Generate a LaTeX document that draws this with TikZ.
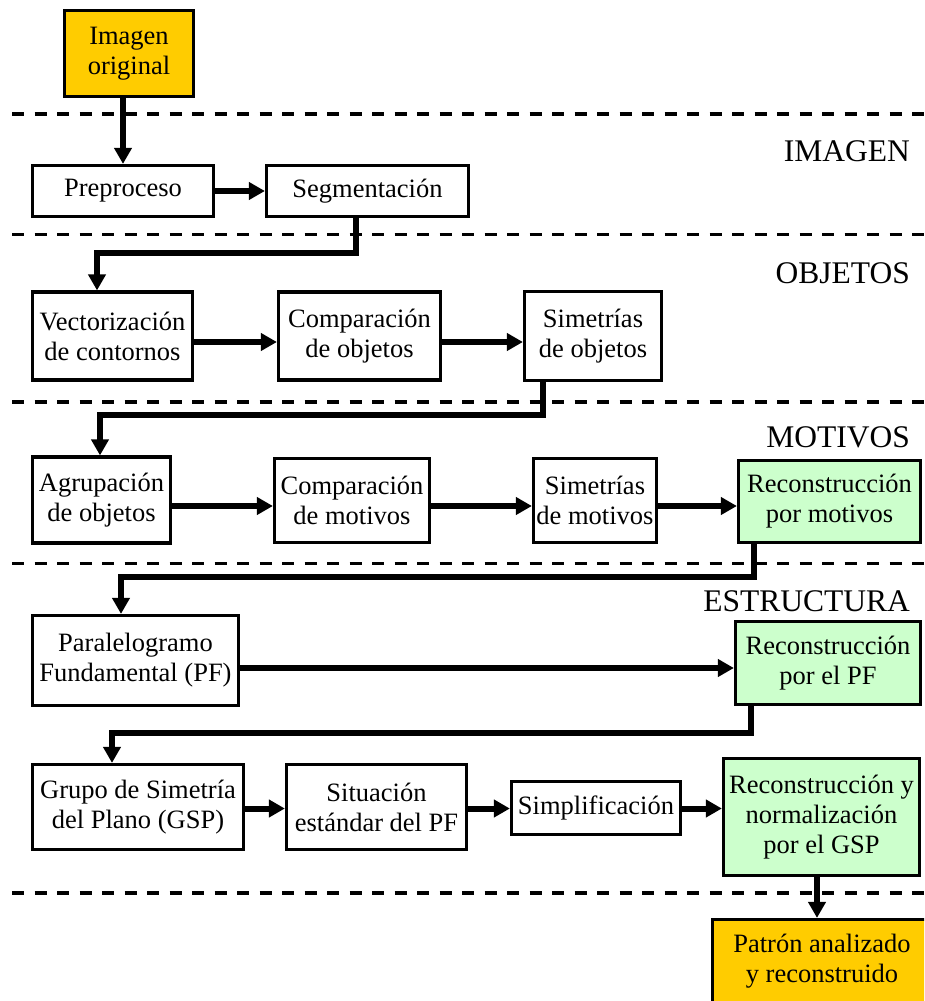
\documentclass[tikz,border=0pt]{standalone}
\usepackage{fontspec}
\setmainfont{Liberation Serif}
\usetikzlibrary{arrows.meta}

\definecolor{boxorange}{HTML}{FFCC00}
\definecolor{boxgreen}{HTML}{CCFFCC}

\begin{document}
\begin{tikzpicture}[x=1pt,y=-1pt,
  box/.style={draw=black, line width=3.2pt, fill=white, inner sep=0pt,
    align=center, font=\fontsize{26.5}{30}\selectfont},
  endbox/.style={box, fill=boxorange},
  recbox/.style={box, fill=boxgreen},
  head/.style={inner sep=0pt, font=\fontsize{31.5}{36}\selectfont, anchor=base east},
  flow/.style={line width=6pt, -{Triangle[length=16pt,width=17pt]}},
  sep/.style={line width=3.5pt, dash pattern=on 12pt off 10.5pt}
]
\useasboundingbox (0,0) rectangle (924,1001);
\clip (0,0) rectangle (924,1001);

% stage separators
\foreach \yy in {114,234.5,402,563.5,893}
  \draw[sep] (12,\yy) -- (940,\yy);

% stage titles
\node[head] (tImg) at (910,161) {IMAGEN};
\node[head] (tObj) at (910,283) {OBJETOS};
\node[head] (tMot) at (910,447) {MOTIVOS};
\node[head] (tEst) at (910,611) {ESTRUCTURA};

% processing steps
\node[endbox, minimum width=129pt, minimum height=86pt] (img) at (129,53.5) {Imagen\\original};

\node[box, minimum width=181pt, minimum height=51pt] (pre) at (123,191) {Preproceso};
\node[box, minimum width=202pt, minimum height=51pt] (seg) at (367.5,191) {Segmentación};

\node[box, minimum width=160pt, minimum height=88pt] (vec) at (112.5,336) {Vectorización\\de contornos};
\node[box, minimum width=162pt, minimum height=88pt] (cmpo) at (359.5,336) {Comparación\\de objetos};
\node[box, minimum width=137pt, minimum height=89pt] (simo) at (593,336) {Simetrías\\de objetos};

\node[box, minimum width=138pt, minimum height=86pt] (agr) at (101.5,500) {Agrupación\\de objetos};
\node[box, minimum width=155pt, minimum height=84pt] (cmpm) at (352,500.5) {Comparación\\de motivos};
\node[box, minimum width=123pt, minimum height=84pt] (simm) at (595,500.5) {Simetrías\\de motivos};
\node[recbox, minimum width=182pt, minimum height=82pt] (recm) at (829.5,501.5) {Reconstrucción\\por motivos};

\node[box, minimum width=206pt, minimum height=90pt] (par) at (135.5,660.5) {Paralelogramo\\Fundamental (PF)};
\node[recbox, minimum width=185pt, minimum height=83pt] (recpf) at (828,663) {Reconstrucción\\por el PF};

\node[box, minimum width=211pt, minimum height=85pt] (gsp) at (138,807) {Grupo de Simetría\\del Plano (GSP)};
\node[box, minimum width=180pt, minimum height=85pt] (sit) at (376.5,807) {Situación\\estándar del PF};
\node[box, minimum width=169pt, minimum height=53pt] (simp) at (596,808) {Simplificación};
\node[recbox, minimum width=196pt, minimum height=117pt] (recg) at (821.5,817) {Reconstrucción y\\normalización\\por el GSP};

\node[endbox, minimum width=219pt, minimum height=84pt] (pat) at (822,961.5) {Patrón analizado\\y reconstruido};

% row levels and bend points of the connectors
\coordinate (r2) at (0,342);
\coordinate (r3) at (0,506);
\coordinate (r4) at (0,668);
\coordinate (r5) at (0,808.5);
\coordinate (a1) at (356,253);  \coordinate (b1) at (97,253);
\coordinate (a2) at (543,415);  \coordinate (b2) at (100,415);
\coordinate (a3) at (754,577);  \coordinate (b3) at (121,577);
\coordinate (a4) at (751,733);  \coordinate (b4) at (112,733);
\coordinate (c5) at (817,0);

% connectors
\draw[flow] (pre.north |- img.south) -- (pre.north);
\draw[flow] (pre.east) -- (seg.west);
\draw[flow] (seg.south -| a1) -- (a1) -- (b1) -- (vec.north -| b1);

\draw[flow] (vec.east |- r2) -- (cmpo.west |- r2);
\draw[flow] (cmpo.east |- r2) -- (simo.west |- r2);
\draw[flow] (simo.south -| a2) -- (a2) -- (b2) -- (agr.north -| b2);

\draw[flow] (agr.east |- r3) -- (cmpm.west |- r3);
\draw[flow] (cmpm.east |- r3) -- (simm.west |- r3);
\draw[flow] (simm.east |- r3) -- (recm.west |- r3);
\draw[flow] (recm.south -| a3) -- (a3) -- (b3) -- (par.north -| b3);

\draw[flow] (par.east |- r4) -- (recpf.west |- r4);
\draw[flow] (recpf.south -| a4) -- (a4) -- (b4) -- (gsp.north -| b4);

\draw[flow] (gsp.east |- r5) -- (sit.west |- r5);
\draw[flow] (sit.east |- r5) -- (simp.west |- r5);
\draw[flow] (simp.east |- r5) -- (recg.west |- r5);
\draw[flow] (recg.south -| c5) -- (pat.north -| c5);
\end{tikzpicture}
\end{document}
